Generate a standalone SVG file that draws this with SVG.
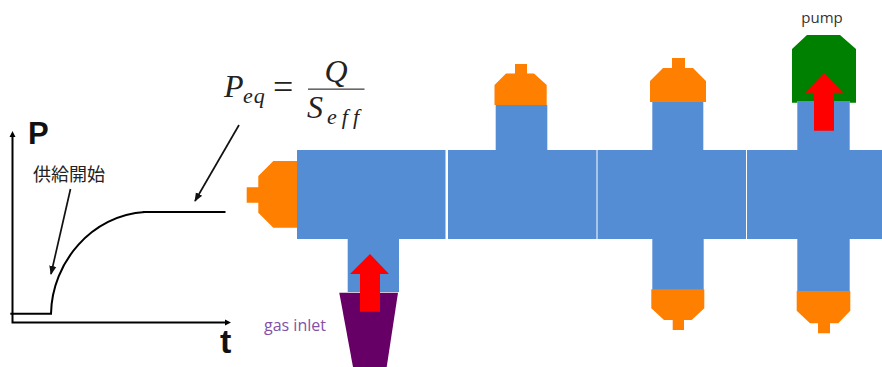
<svg xmlns="http://www.w3.org/2000/svg" width="882" height="367" viewBox="0 0 882 367">
<defs>
<style>
.blue{fill:#558dd5}
.orange{fill:#ff7f00}
.red{fill:#ff0000}
.line{fill:none;stroke:#000;stroke-width:2}
.thin{fill:none;stroke:#111;stroke-width:1.7}
.math{font-family:"Liberation Serif","Times New Roman",serif;font-style:italic;fill:#222}
.label{font-family:"Open Sans","Liberation Sans",sans-serif}
.big{font-family:"Liberation Sans",Arial,sans-serif;font-weight:700;fill:#111}
</style>
<marker id="ah" viewBox="0 0 10 10" refX="9" refY="5" markerWidth="9" markerHeight="9" markerUnits="userSpaceOnUse" orient="auto"><path d="M0,1 L10,5 L0,9 Z" fill="#111"/></marker>
</defs>
<rect width="882" height="367" fill="#fff"/>
<g id="chamber">
<rect class="blue" x="297" y="150" width="148.500" height="89"/>
<rect class="blue" x="448" y="150" width="148.500" height="89"/>
<rect class="blue" x="597.500" y="150" width="148.500" height="89"/>
<rect class="blue" x="747" y="150" width="135" height="89"/>
<rect class="blue" x="347.700" y="238" width="51.300" height="54"/>
<rect class="blue" x="495.700" y="105" width="51.600" height="46"/>
<rect class="blue" x="652.300" y="102" width="51" height="49"/>
<rect class="blue" x="797.300" y="100" width="52.400" height="51"/>
<rect class="blue" x="652.300" y="238" width="51.400" height="52"/>
<rect class="blue" x="797.300" y="238" width="52.400" height="54"/>
</g>
<g id="gauge-left"><path class="orange" d="M297,161 H273.300 L258.300,176 V187.300 H246.700 V202.700 H258.300 V212.700 L273.300,227.700 H297 Z"/></g>
<g id="gauge-top-1"><path class="orange" d="M494.500,105 V85 L506,73.500 H515 V64 H527 V73.500 H534 L546.700,85 V105 Z"/></g>
<g id="gauge-top-2"><path class="orange" d="M650,102 V81 L663,68 H672 V58 H685 V68 H693 L706,81 V102 Z"/></g>
<g id="gauge-bottom-2"><path class="orange" d="M651.300,289.300 V308.300 L664,320 H672.700 V330 H684 V320 H691.700 L704.300,308.300 V289.300 Z"/></g>
<g id="gauge-bottom-3"><path class="orange" d="M796.700,291 V310.700 L810,323.300 H818 V333.300 H830 V323.300 H838.300 L850.300,310.700 V291 Z"/></g>
<g id="pump">
<path fill="#008000" d="M792,102.700 V49 L807,35 H840 L856,49 V102.700 H849.700 V101 H797.300 V102.700 Z"/>
<path class="red" d="M824,73 L843,92.700 H834 V130.700 H814 V92.700 H805 Z"/>
<text class="label" x="822" y="23" font-size="15" text-anchor="middle" fill="#333">pump</text>
</g>
<g id="gas-inlet">
<path fill="#660066" d="M339.300,292.700 H398 L386.700,367 H353 Z"/>
<path class="red" d="M370,254 L389,274 H380 V311.700 H360 V274 H350 Z"/>
<text class="label" x="264" y="331" font-size="16" fill="#8350a8">gas inlet</text>
</g>
<g id="graph">
<g id="connectors">
<path class="line" d="M12.500,135 V322.500 H228"/>
<path d="M12.500,131 L15.500,137 H9.500 Z M231,322.500 L225,319.500 V325.500 Z" fill="#000"/>
<path class="line" d="M10.300,313.700 H52"/>
<path class="line" d="M51,313.700 C52,262 92,215 145,212"/>
<path class="line" d="M143,212 H225.500"/>
<path class="thin" d="M70.500,189 L51,274" marker-end="url(#ah)"/>
<path class="thin" d="M239,125 L195,201" marker-end="url(#ah)"/>
</g>
<text class="big" x="28" y="143.500" font-size="31">P</text>
<text class="big" x="220" y="353" font-size="34">t</text>
<text x="33" y="181" font-size="18" fill="#222" font-family="'Noto Sans CJK JP','Noto Sans CJK SC',sans-serif">供給開始</text>
</g>
<g id="formula">
<text class="math" x="224" y="97" font-size="32">P</text>
<text class="math" x="243" y="103" font-size="22" letter-spacing="1">eq</text>
<text x="273" y="99" font-size="36" fill="#222" font-family="'Liberation Serif',serif">=</text>
<rect x="308" y="88.500" width="56.500" height="1.300" fill="#444"/>
<text class="math" x="336" y="81.500" font-size="32" text-anchor="middle">Q</text>
<text class="math" x="307" y="118" font-size="32">S</text>
<text class="math" x="327" y="124" font-size="22" letter-spacing="5">eff</text>
</g>
</svg>
